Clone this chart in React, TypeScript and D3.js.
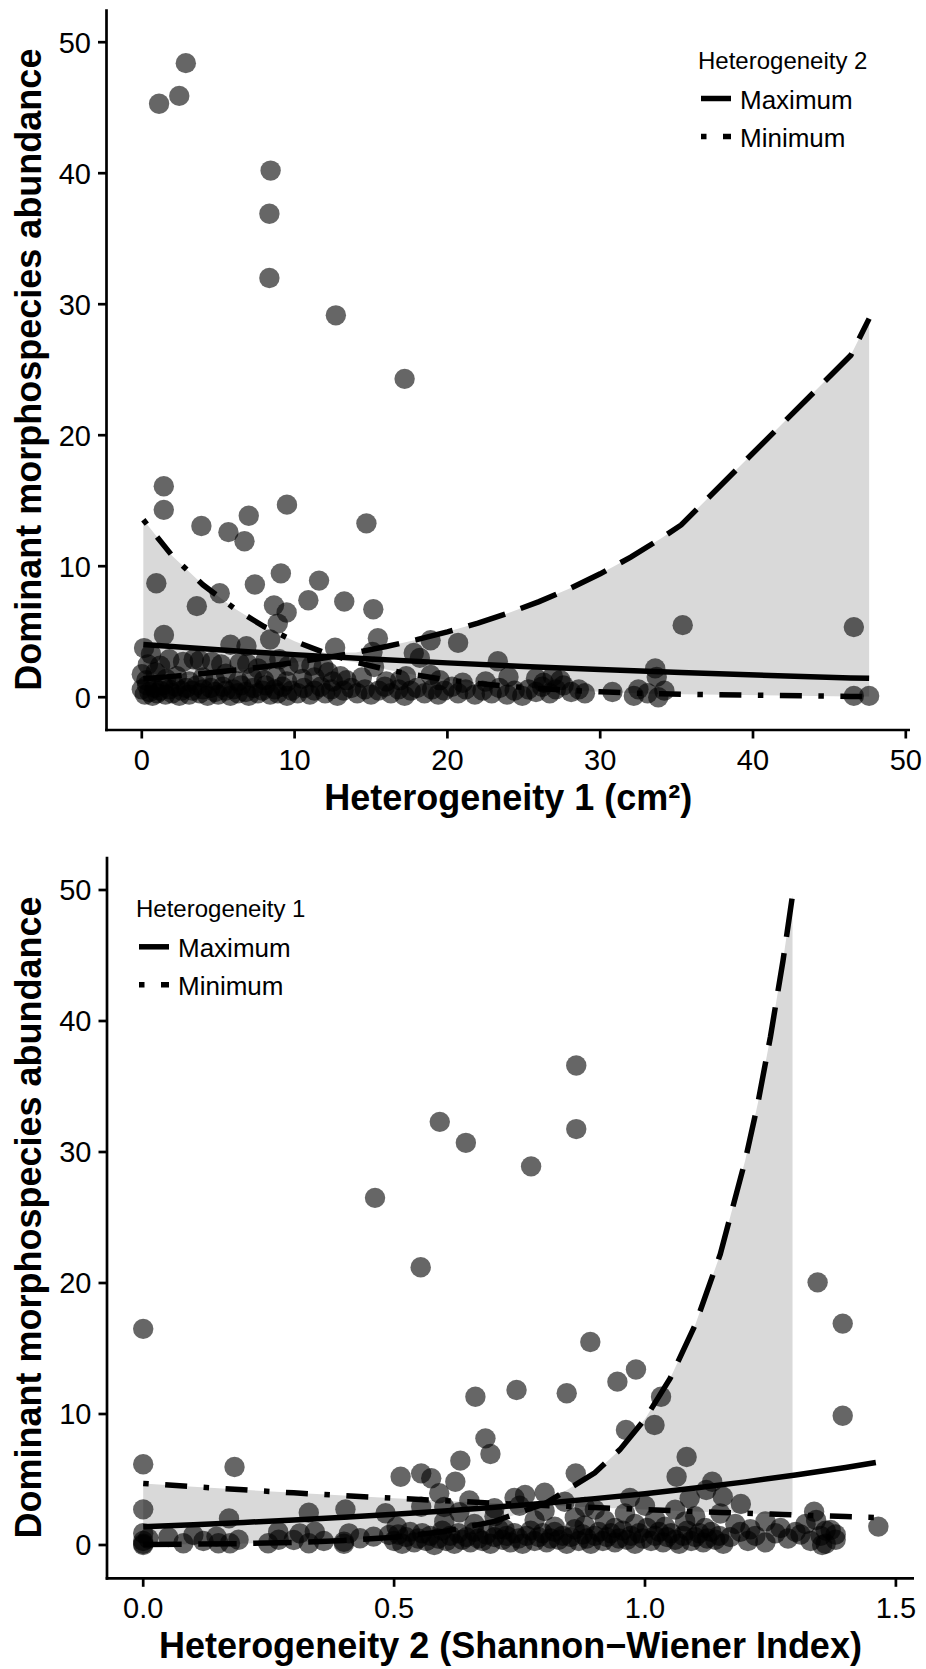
import React from 'react';
import * as d3 from 'd3';

const W = 926;
const H = 1669;
const FONT = "'Liberation Sans', Arial, Helvetica, sans-serif";

const yTicks = [0, 10, 20, 30, 40, 50];
const topXTicks = [0, 10, 20, 30, 40, 50];
const botXTicks = [0, 0.5, 1.0, 1.5];
const botXTickLabels = ['0.0', '0.5', '1.0', '1.5'];

const yTitle = 'Dominant morphospecies abundance';
const topXTitle = 'Heterogeneity 1 (cm²)';
const botXTitle = 'Heterogeneity 2 (Shannon\u2212Wiener Index)';
const topLegendTitle = 'Heterogeneity 2';
const botLegendTitle = 'Heterogeneity 1';
const legendLabels = ['Maximum', 'Minimum'];

// ---- top panel curves ----
const topSolidX = [0.1, 5, 10, 15, 20, 25, 30, 35.3, 46.4, 47.6];
const topSolid = [4.03, 3.62, 3.25, 2.92, 2.62, 2.35, 2.11, 1.88, 1.47, 1.44];
const topCurveX = [0.1, 2, 4, 6, 8, 10, 12, 14, 16, 18, 20, 22, 24, 26, 28, 30, 32, 34, 35.3, 46.4, 47.6];
const topDashed = [1.41, 1.59, 1.81, 2.05, 2.33, 2.64, 3.0, 3.41, 3.87, 4.39, 4.99, 5.66, 6.43, 7.3, 8.29, 9.42, 10.69, 12.14, 13.15, 26.1, 28.9];
const topDotDash = [13.54, 10.78, 8.58, 6.83, 5.39, 4.27, 3.38, 2.67, 2.11, 1.68, 1.32, 1.05, 0.83, 0.66, 0.52, 0.41, 0.32, 0.26, 0.22, 0.06, 0.05];

// ---- bottom panel curves ----
const botSolidX = [0, 0.1, 0.2, 0.3, 0.4, 0.5, 0.6, 0.7, 0.8, 0.9, 1.0, 1.1, 1.2, 1.3, 1.4, 1.46];
const botSolid = [1.4, 1.55, 1.72, 1.91, 2.11, 2.34, 2.6, 2.88, 3.19, 3.54, 3.92, 4.35, 4.82, 5.34, 5.92, 6.3];
const botCurveX = [0, 0.1, 0.2, 0.3, 0.4, 0.5, 0.6, 0.7, 0.8, 0.9, 0.95, 1.0, 1.05, 1.1, 1.15, 1.2, 1.225, 1.25, 1.275, 1.294, 1.3, 1.4, 1.46];
const botDotDash = [4.7, 4.45, 4.21, 3.98, 3.77, 3.57, 3.38, 3.19, 3.02, 2.86, 2.78, 2.71, 2.63, 2.56, 2.49, 2.42, 2.39, 2.36, 2.33, 2.3, 2.29, 2.17, 2.1];
const botDashed = [0.036, 0.063, 0.11, 0.19, 0.34, 0.59, 1.03, 1.8, 3.15, 5.51, 7.28, 9.62, 12.71, 16.8, 22.2, 29.4, 33.75, 38.8, 44.6, 49.6];

// ---- observations ----
const topPoints: [number, number][] = [
  [1.13, 45.3], [2.45, 45.9], [2.88, 48.4], [8.43, 40.2], [8.35, 36.9], [8.35, 32.0], [12.7, 29.15], [17.2, 24.3],
  [1.44, 16.1], [1.44, 14.3], [9.5, 14.7], [7.0, 13.85], [3.9, 13.07], [5.67, 12.6], [6.72, 11.9], [14.7, 13.27],
  [0.95, 8.7], [9.1, 9.45], [11.6, 8.9], [7.4, 8.6], [5.1, 7.93], [10.9, 7.4], [13.25, 7.3], [3.6, 6.95], [8.65, 7.0],
  [9.48, 6.47], [15.15, 6.71], [8.9, 5.62], [35.4, 5.5], [46.6, 5.35],
  [1.45, 4.75], [15.45, 4.5], [20.7, 4.15], [18.9, 4.35], [8.4, 4.4], [5.8, 4.0], [6.85, 3.9], [12.65, 3.78],
  [15.1, 3.45], [17.8, 3.38], [18.2, 3.0], [23.3, 2.75], [33.6, 2.2], [33.7, 1.55], [24.0, 1.55], [0.15, 3.75],
  [0.4, 2.5], [0.0, 1.75],
  [0.6, 3.3], [1.2, 2.4], [1.8, 2.9], [2.7, 2.7], [3.4, 2.9], [3.8, 2.8], [4.6, 2.7], [5.2, 2.5], [6.4, 2.6],
  [6.9, 2.55], [7.6, 2.2], [8.1, 2.8], [9.0, 2.9], [9.6, 2.4], [10.3, 2.55], [11.1, 2.4], [11.9, 2.3], [12.2, 1.9],
  [13.0, 1.6], [13.4, 1.3], [14.4, 1.5], [15.2, 2.3], [16.0, 1.2], [16.9, 1.3], [17.3, 1.6], [18.9, 1.7], [19.5, 1.3],
  [21.0, 1.1], [22.5, 1.2], [25.8, 1.45], [26.9, 1.6], [27.4, 1.3], [26.3, 1.1],
  [0.3, 1.3], [0.9, 1.9], [1.6, 1.4], [2.3, 1.6], [3.1, 1.2], [4.0, 1.5], [4.8, 1.3], [5.5, 1.8], [6.3, 1.2],
  [7.2, 1.5], [8.0, 1.3], [8.8, 1.6], [9.5, 1.2], [10.5, 1.4], [11.3, 1.5], [12.5, 1.2],
  [0.0, 0.6], [0.2, 0.2], [0.35, 0.9], [0.5, 0.4], [0.7, 0.1], [0.85, 0.7], [1.0, 0.3], [1.2, 0.5], [1.4, 0.9],
  [1.55, 0.2], [1.8, 0.6], [2.0, 0.3], [2.2, 0.8], [2.45, 0.1], [2.6, 0.5], [2.9, 0.7], [3.1, 0.2], [3.3, 0.5],
  [3.6, 0.9], [3.8, 0.3], [4.0, 0.6], [4.3, 0.1], [4.5, 0.7], [4.8, 0.4], [5.0, 0.2], [5.3, 0.8], [5.5, 0.5],
  [5.8, 0.1], [6.0, 0.6], [6.3, 0.3], [6.5, 0.9], [6.8, 0.4], [7.0, 0.1], [7.3, 0.7], [7.6, 0.3], [7.9, 0.5],
  [8.1, 0.9], [8.4, 0.2], [8.7, 0.6], [8.9, 0.3], [9.2, 0.8], [9.5, 0.1], [9.8, 0.5], [10.2, 0.3], [10.6, 0.7],
  [11.0, 0.2], [11.3, 0.5], [11.7, 0.8], [12.0, 0.3], [12.4, 0.6], [12.8, 0.1], [13.2, 0.5], [13.7, 0.7],
  [14.1, 0.3], [14.6, 0.6], [15.0, 0.2], [15.5, 0.5], [15.9, 0.8], [16.3, 0.3], [16.8, 0.6], [17.2, 0.1],
  [17.6, 0.5], [18.0, 0.7], [18.5, 0.3], [19.0, 0.6], [19.4, 0.2], [19.8, 0.5], [20.3, 0.8], [20.7, 0.3],
  [21.2, 0.6], [21.8, 0.2], [22.3, 0.5], [22.9, 0.3], [23.4, 0.7], [23.9, 0.2], [24.4, 0.5], [24.9, 0.1],
  [25.3, 0.6], [25.8, 0.4], [26.2, 0.8], [26.7, 0.3], [27.1, 0.6], [27.6, 0.9], [28.1, 0.4], [28.6, 0.6],
  [29.0, 0.3], [30.8, 0.4], [32.2, 0.1], [32.5, 0.6], [33.1, 0.3], [33.8, 0.0], [34.2, 0.5], [46.6, 0.1], [47.6, 0.1],
];

const botPoints: [number, number][] = [
  [0.462, 26.5], [0.591, 32.3], [0.643, 30.7], [0.773, 28.9], [0.863, 36.6], [0.863, 31.75], [0.553, 21.2],
  [0.0, 16.5], [1.344, 20.05], [1.394, 16.9], [1.394, 9.87], [0.891, 15.5], [0.982, 13.4], [0.945, 12.47],
  [0.744, 11.83], [0.844, 11.58], [0.662, 11.32], [1.032, 11.32], [1.019, 9.16], [0.962, 8.78], [0.682, 8.14],
  [0.692, 6.95], [0.0, 6.16], [0.182, 5.95], [0.632, 6.44], [1.083, 6.72], [0.513, 5.21], [0.554, 5.47],
  [0.574, 5.09], [0.622, 4.83], [0.862, 5.47], [1.063, 5.21], [1.134, 4.83], [0.59, 3.95], [0.761, 3.82],
  [1.155, 3.69], [1.089, 3.56], [1.191, 3.13], [1.122, 4.2], [0.0, 2.72], [0.403, 2.72], [0.33, 2.47],
  [0.171, 2.03], [0.554, 2.92], [0.483, 2.42], [1.337, 2.54], [1.341, 1.91], [1.465, 1.4], [1.37, 1.15], [1.353, 0.0],
  [0.0, 0.9], [0.1, 0.76], [0.146, 0.64], [0.269, 1.02], [0.312, 0.89], [0.342, 1.02], [0.41, 0.89], [0.49, 0.76], [0.505, 1.4],
  [0.6, 1.8], [0.63, 2.5], [0.66, 1.6], [0.7, 2.2], [0.72, 1.2], [0.75, 3.0], [0.78, 1.9], [0.8, 2.6], [0.82, 1.4],
  [0.84, 3.3], [0.86, 2.1], [0.88, 1.5], [0.9, 2.7], [0.92, 1.9], [0.94, 1.3], [0.96, 2.4], [0.98, 1.6], [1.0, 3.0],
  [1.02, 2.0], [1.04, 1.4], [1.06, 2.7], [1.08, 1.8], [1.1, 2.2], [1.12, 1.3], [1.15, 2.4], [1.18, 1.6], [1.21, 1.2],
  [1.24, 1.8], [1.27, 1.3], [1.3, 1.0], [1.32, 1.6], [1.36, 1.1], [1.38, 0.8], [0.97, 3.6], [0.88, 2.9], [0.74, 3.6],
  [0.7, 2.8], [0.65, 3.4], [0.6, 2.9], [0.8, 4.0],
  [0.0, 0.1], [0.0, 0.3], [0.0, 0.0], [0.01, 0.5], [0.08, 0.13], [0.15, 0.13], [0.173, 0.13], [0.249, 0.13],
  [0.3, 0.38], [0.33, 0.13], [0.4, 0.25], [0.432, 0.51], [0.459, 0.64], [0.4, 0.1], [0.36, 0.3], [0.27, 0.4],
  [0.19, 0.4], [0.12, 0.3], [0.05, 0.6],
  [0.5, 0.3], [0.508, 0.8], [0.516, 0.1], [0.524, 0.6], [0.532, 1.0], [0.54, 0.2], [0.548, 0.5], [0.556, 0.9],
  [0.564, 0.3], [0.572, 0.7], [0.58, 0.0], [0.588, 0.5], [0.596, 1.1], [0.604, 0.3], [0.612, 0.7], [0.62, 0.1],
  [0.628, 0.9], [0.636, 0.4], [0.644, 0.6], [0.652, 0.2], [0.66, 1.0], [0.668, 0.5], [0.676, 0.3], [0.684, 0.8],
  [0.692, 0.1], [0.7, 0.6], [0.708, 1.2], [0.716, 0.4], [0.724, 0.7], [0.732, 0.2], [0.74, 0.9], [0.748, 0.5],
  [0.756, 0.1], [0.764, 0.7], [0.772, 1.1], [0.78, 0.3], [0.788, 0.6], [0.796, 0.9], [0.804, 0.2], [0.812, 0.5],
  [0.82, 1.0], [0.828, 0.4], [0.836, 0.7], [0.844, 0.1], [0.852, 0.6], [0.86, 1.2], [0.868, 0.3], [0.876, 0.8],
  [0.884, 0.5], [0.892, 0.1], [0.9, 0.7], [0.908, 1.0], [0.916, 0.3], [0.924, 0.6], [0.932, 0.9], [0.94, 0.2],
  [0.948, 0.5], [0.956, 1.1], [0.964, 0.4], [0.972, 0.7], [0.98, 0.1], [0.988, 0.9], [0.996, 0.5], [1.004, 1.3],
  [1.012, 0.3], [1.02, 0.7], [1.028, 1.0], [1.036, 0.2], [1.044, 0.6], [1.052, 0.9], [1.06, 0.4], [1.068, 0.1],
  [1.076, 0.7], [1.084, 1.1], [1.092, 0.3], [1.1, 0.6], [1.108, 0.9], [1.116, 0.2], [1.124, 0.5], [1.132, 1.0],
  [1.14, 0.4], [1.148, 0.7], [1.156, 0.1], [1.17, 0.6], [1.19, 1.0], [1.205, 0.3], [1.22, 0.7], [1.24, 0.2],
  [1.26, 0.9], [1.285, 0.5], [1.31, 0.8], [1.33, 0.3], [1.35, 0.7], [1.36, 0.1], [1.38, 0.4],
];

const LW = 5.5;
const DASH_LONG = `${7 * LW} ${3 * LW}`;
const DASH_DOTDASH = `${1 * LW} ${3 * LW} ${4 * LW} ${3 * LW}`;

type PanelProps = {
  left: number; right: number; top: number; bottom: number;
  x: d3.ScaleLinear<number, number>; y: d3.ScaleLinear<number, number>;
  xTicks: number[]; xTickLabels: string[]; xTitle: string;
  solidX: number[]; solid: number[]; curveX: number[]; dashed: number[]; dotdash: number[];
  points: [number, number][];
  legendX: number; legendY: number; legendTitle: string;
};

function Panel(p: PanelProps) {
  const { x, y } = p;
  const n = p.dashed.length;
  const ribbonData = p.curveX.slice(0, n).map((gx, i) => ({
    gx,
    lo: Math.min(p.dashed[i], p.dotdash[i]),
    hi: Math.max(p.dashed[i], p.dotdash[i]),
  }));
  const area = d3.area<{ gx: number; lo: number; hi: number }>()
    .x((d) => x(d.gx)).y0((d) => y(d.lo)).y1((d) => y(d.hi));
  const line = (xs: number[], vals: number[]) =>
    d3.line<number>().x((_, i) => x(xs[i])).y((v) => y(v))(vals) || '';
  const tickLen = 8.5;
  const axisW = 2.7;
  const cy = (p.top + p.bottom) / 2;
  const cx = (p.left + p.right) / 2;
  return (
    <g>
      <path d={area(ribbonData) || ''} fill="#d9d9d9" />
      {p.points.map((d, i) => (
        <circle key={i} cx={x(d[0])} cy={y(d[1])} r={10.2} fill="#000" fillOpacity={0.6} />
      ))}
      <path d={line(p.solidX, p.solid)} fill="none" stroke="#000" strokeWidth={LW} />
      <path d={line(p.curveX, p.dashed)} fill="none" stroke="#000" strokeWidth={LW} strokeDasharray={DASH_LONG} />
      <path d={line(p.curveX, p.dotdash)} fill="none" stroke="#000" strokeWidth={LW} strokeDasharray={DASH_DOTDASH} />
      {/* axes */}
      <line x1={p.left} x2={p.left} y1={p.top} y2={p.bottom + axisW / 2} stroke="#000" strokeWidth={axisW} />
      <line x1={p.left - axisW / 2} x2={p.right} y1={p.bottom} y2={p.bottom} stroke="#000" strokeWidth={axisW} />
      {yTicks.map((t) => (
        <g key={'y' + t}>
          <line x1={p.left - tickLen} x2={p.left} y1={y(t)} y2={y(t)} stroke="#000" strokeWidth={axisW} />
          <text x={p.left - tickLen - 7} y={y(t)} dy="0.36em" textAnchor="end" fontSize={29} fontFamily={FONT} fill="#000">{t}</text>
        </g>
      ))}
      {p.xTicks.map((t, i) => (
        <g key={'x' + t}>
          <line x1={x(t)} x2={x(t)} y1={p.bottom} y2={p.bottom + tickLen} stroke="#000" strokeWidth={axisW} />
          <text x={x(t)} y={p.bottom + 40} textAnchor="middle" fontSize={29} fontFamily={FONT} fill="#000">{p.xTickLabels[i]}</text>
        </g>
      ))}
      <text x={cx} y={p.bottom + 80} textAnchor="middle" fontSize={36} fontWeight="bold" fontFamily={FONT} fill="#000">{p.xTitle}</text>
      <text transform={`translate(41,${cy}) rotate(-90)`} textAnchor="middle" fontSize={36} fontWeight="bold" fontFamily={FONT} fill="#000">{yTitle}</text>
      {/* legend */}
      <text x={p.legendX} y={p.legendY} fontSize={24} fontFamily={FONT} fill="#000">{p.legendTitle}</text>
      {legendLabels.map((lab, i) => {
        const ky = p.legendY + 29.5 + i * 38;
        return (
          <g key={lab}>
            <line x1={p.legendX + 3} x2={p.legendX + 33} y1={ky} y2={ky} stroke="#000" strokeWidth={LW}
              strokeDasharray={i === 1 ? DASH_DOTDASH : undefined} />
            <text x={p.legendX + 42} y={ky + 10} fontSize={26} fontFamily={FONT} fill="#000">{lab}</text>
          </g>
        );
      })}
    </g>
  );
}

export default function App() {
  const topX = d3.scaleLinear().domain([0, 50]).range([141.8, 905.8]);
  const topY = d3.scaleLinear().domain([0, 50]).range([697.2, 42.2]);
  const botX = d3.scaleLinear().domain([0, 1.5]).range([143.2, 895.9]);
  const botY = d3.scaleLinear().domain([0, 50]).range([1545, 890]);
  return (
    <div style={{ position: 'absolute', left: 0, top: 0 }}>
      <svg width={W} height={H} style={{ display: 'block', background: '#fff' }}>
        <rect width={W} height={H} fill="#fff" />
        <Panel left={106.5} right={910} top={9.3} bottom={730} x={topX} y={topY}
          xTicks={topXTicks} xTickLabels={topXTicks.map(String)} xTitle={topXTitle}
          solidX={topSolidX} solid={topSolid} curveX={topCurveX} dashed={topDashed} dotdash={topDotDash}
          points={topPoints} legendX={698} legendY={69} legendTitle={topLegendTitle} />
        <Panel left={107} right={914} top={856.7} bottom={1578.3} x={botX} y={botY}
          xTicks={botXTicks} xTickLabels={botXTickLabels} xTitle={botXTitle}
          solidX={botSolidX} solid={botSolid} curveX={botCurveX} dashed={botDashed} dotdash={botDotDash}
          points={botPoints} legendX={136} legendY={917.3} legendTitle={botLegendTitle} />
      </svg>
    </div>
  );
}
